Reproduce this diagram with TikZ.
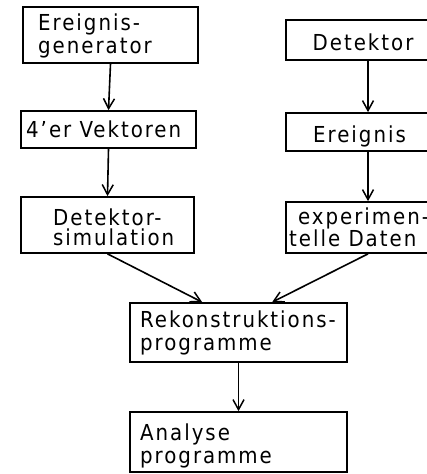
\documentclass[tikz,border=0pt]{standalone}
\usepackage{fontspec}
\setmainfont{DejaVu Sans Condensed}[LetterSpace=9]
\usetikzlibrary{arrows.meta}
\tikzset{
  box/.style={draw, line width=1.7pt, inner sep=0pt},
  txt/.style={inner sep=0pt, align=left, anchor=west,
    font=\fontsize{22}{23}\selectfont},
  tighttxt/.style={txt, font=\fontsize{22}{20}\selectfont},
  arr/.style={line width=1.6pt, -{Straight Barb[length=10pt,width=11pt,line width=1.5pt]}}
}
\begin{document}
\begin{tikzpicture}[x=1pt,y=-1pt]
\useasboundingbox (0,0) rectangle (427,474);
% left column
\node[box, minimum width=175pt, minimum height=56pt] (b1) at (110.5,35) {};
\node[box, minimum width=175pt, minimum height=37pt] (b2) at (108.5,129.5) {};
\node[box, minimum width=173pt, minimum height=56pt] (b3) at (107.5,225) {};
\node[txt] (t1) at (38,36) {Ereignis-\\generator};
\node[txt] (t2) at (26,129.7) {4'er Vektoren};
\node[tighttxt] (t3) at (53,227) {Detektor-\\simulation};
% right column
\node[box, minimum width=164pt, minimum height=40pt] (r1) at (368,40) {};
\node[box, minimum width=164pt, minimum height=38pt] (r2) at (368,132) {};
\node[box, minimum width=164pt, minimum height=51pt] (r3) at (368,227.5) {};
\node[txt] (s1) at (312.5,42) {Detektor};
\node[txt] (s2) at (313,136.2) {Ereignis};
\node[tighttxt] (s3) at (289,227.5) {\hspace*{9pt}experimen-\\telle Daten};
% middle
\node[box, minimum width=217pt, minimum height=59pt] (m1) at (238.5,332.5) {};
\node[box, minimum width=217pt, minimum height=60pt] (m2) at (238.5,442) {};
\node[txt] (u1) at (140,333) {Rekonstruktions-\\programme};
\node[txt] (u2) at (140,445.7) {Analyse\\programme};
% arrows
\draw[arr] (b1.south) -- (b2.north);
\draw[arr] (b2.south) -- (b3.north);
\draw[arr] (r1.south) -- (r2.north);
\draw[arr] (r2.south) -- (r3.north);
\draw[arr] (b3.south) -- ([xshift=73pt]m1.north west);
\draw[arr] (r3.south) -- ([xshift=143pt]m1.north west);
\draw[arr] (m1.south) -- (m2.north);
\end{tikzpicture}
\end{document}
